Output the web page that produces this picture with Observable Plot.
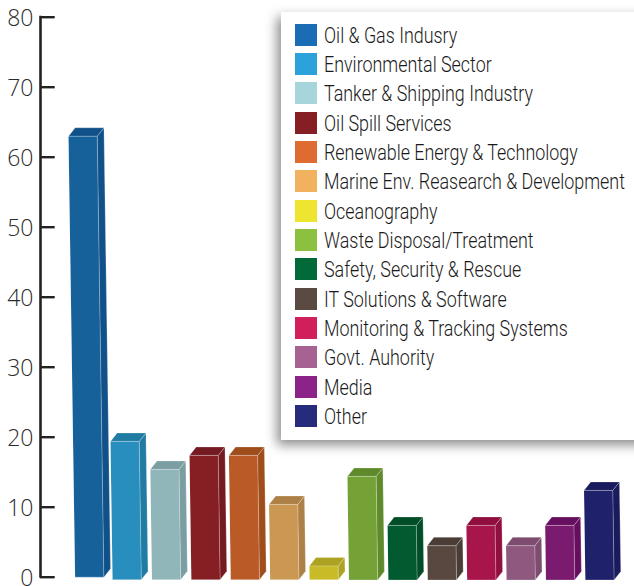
<!DOCTYPE html>
<html>
<head>
<meta charset="utf-8">
<script src="https://cdn.jsdelivr.net/npm/d3@7"></script>
<script src="https://cdn.jsdelivr.net/npm/@observablehq/plot@0.6"></script>
<style>
html,body{margin:0;padding:0;background:#fff;}
#wrap{position:relative;width:634px;height:586px;overflow:hidden;}
#wrap svg{position:absolute;left:0;top:0;display:block;}
#legend{position:absolute;left:281px;top:12px;width:380px;height:428px;background:#fff;box-shadow:-4px 5px 11px rgba(0,0,0,.45);}
.row{position:absolute;left:14px;height:22px;display:flex;align-items:center;white-space:nowrap;
 font-family:Roboto,"Liberation Sans",sans-serif;font-weight:300;font-size:21.5px;color:#1a1a1a;}
.sw{width:22px;height:22px;margin-right:7px;flex:none;}
.tx{display:inline-block;transform:scaleX(.832);transform-origin:0 50%;}
</style>
</head>
<body>
<div id="wrap"></div>
<script>
const categories = ["Oil & Gas Indusry","Environmental Sector","Tanker & Shipping Industry","Oil Spill Services","Renewable Energy & Technology","Marine Env. Reasearch & Development","Oceanography","Waste Disposal/Treatment","Safety, Security & Rescue","IT Solutions & Software","Monitoring & Tracking Systems","Govt. Auhority","Media","Other"];
const values = [63,19.4,15.4,17.4,17.4,10.4,1.6,14.4,7.4,4.5,7.4,4.5,7.4,12.4];
const floors = [0,-0.35,-0.35,-0.35,-0.35,-0.35,-0.35,-0.4,-0.4,-0.4,-0.4,-0.4,-0.4,-0.4];
const slots = [0.05,1,2,3,4,5,6,7,8,9,10,11,12,13];
const legendColors = ["#1a6cb4","#2ba3da","#a6d6dc","#851f23","#de6c30","#f2b15f","#eee530","#8bc13f","#026a39","#5a4a42","#d11f5c","#a66290","#8b2388","#272b7c"];
const frontColors = ["#17619b","#288ebd","#90b6ba","#851f23","#b95a27","#cb9853","#c9bb28","#74a237","#015a30","#58483f","#a8154a","#8f587f","#7a1b70","#1f216a"];
const shadeColors = ["#11518a","#217ca3","#7b9ea2","#741b22","#a04d1c","#ad8146","#ada222","#5e8a2b","#014d28","#4a3d35","#900f3f","#7d4c6e","#660f5f","#1a1b5c"];
const yTicks = [0,10,20,30,40,50,60,70,80];

// 3D look, in scale units
const barW = 0.73, depthX = 0.17, depthY = 1.21, lean = 0.00265;
const L = (i, v) => slots[i] - lean * v;
const R = (i, v) => L(i, v) + barW;

const front = [], side = [], topFace = [];
categories.forEach((c, i) => {
  const v = values[i], b = floors[i];
  [[L(i,v),v],[R(i,v),v],[R(i,b),b],[L(i,b),b]].forEach(([x,y]) => front.push({c,x,y,fill:frontColors[i]}));
  [[R(i,v),v],[R(i,v)+depthX,v+depthY],[R(i,b)+depthX,b+depthY],[R(i,b),b]].forEach(([x,y]) => side.push({c,x,y,fill:shadeColors[i]}));
  [[L(i,v),v],[L(i,v)+depthX,v+depthY],[R(i,v)+depthX,v+depthY],[R(i,v),v]].forEach(([x,y]) => topFace.push({c,x,y,fill:shadeColors[i]}));
});
const poly = (d) => Plot.line(d, {x:"x", y:"y", z:"c", fill:"fill", curve:"linear-closed", stroke:"#fff", strokeOpacity:0.25, strokeWidth:1});

const pxX = (px) => (px - 72.6) / 39.4;

const chart = Plot.plot({
  width: 634, height: 586,
  marginLeft: 40, marginRight: 0, marginTop: 0, marginBottom: 0,
  style: {background:"transparent", fontFamily:'"Open Sans",sans-serif', color:"#2b2b2b"},
  x: {type:"linear", domain:[0,14], range:[72.6, 72.6+39.4*14], axis:null},
  y: {type:"linear", domain:[0,80], range:[576.7,16.7], axis:null},
  marks: [
    Plot.axisY({ticks:yTicks, anchor:"left", tickSize:0, tickPadding:7, fontSize:23, fontWeight:300, dy:1.5, label:null, tickFormat:d=>String(d), fill:"#2b2b2b"}),
    Plot.ruleX([pxX(40)], {y1:-0.15, y2:80.15, stroke:"#222", strokeWidth:2.6}),
    Plot.ruleY(yTicks, {x1:pxX(40), x2:pxX(54.7), stroke:"#222", strokeWidth:2.4}),
    poly(side),
    poly(topFace),
    poly(front)
  ]
});
const wrap = document.getElementById("wrap");
wrap.appendChild(chart);

const legend = document.createElement("div");
legend.id = "legend";
const rowTops = [24,53,82,112,141,170,200,229,258,288,317,346,376,405];
categories.forEach((c,i) => {
  const r = document.createElement("div");
  r.className = "row";
  r.style.top = (rowTops[i]-12) + "px";
  const s = document.createElement("span");
  s.className = "sw"; s.style.background = legendColors[i];
  const t = document.createElement("span");
  t.className = "tx";
  t.textContent = c;
  r.append(s,t);
  legend.appendChild(r);
});
wrap.appendChild(legend);
</script>
</body>
</html>
